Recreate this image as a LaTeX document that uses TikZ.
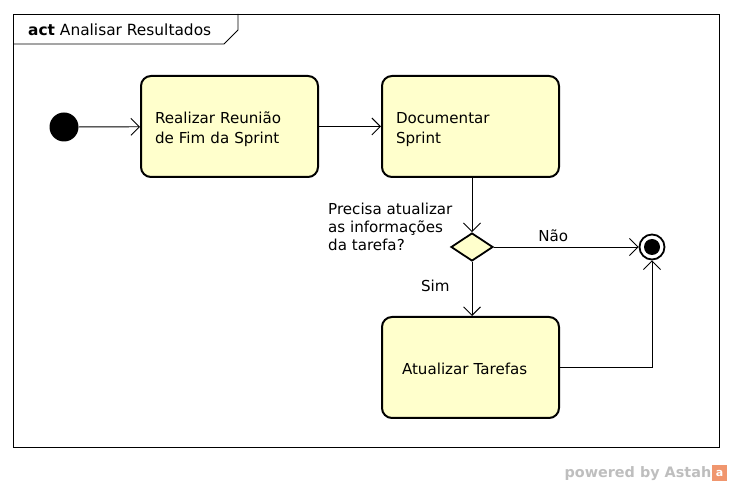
\documentclass[tikz,border=0pt]{standalone}
\usepackage{fontspec}
\setmainfont{DejaVu Sans}
\usetikzlibrary{arrows.meta,shapes.geometric}
\definecolor{actfill}{RGB}{255,255,204}
\definecolor{astahgray}{RGB}{190,190,190}
\definecolor{astahorange}{RGB}{240,150,110}
\newcommand{\boxtext}[1]{\raisebox{0pt}[\dimexpr\height+6pt\relax]{\begin{tabular}{@{}l@{}}#1\end{tabular}}}
\tikzset{
  every node/.style={font=\fontsize{15.1}{19.8}\selectfont},
  action/.style={draw, line width=2pt, rounded corners=10pt, fill=actfill,
    minimum width=177pt, minimum height=101pt, align=left, inner ysep=0pt},
  flow/.style={draw, line width=0.9pt, -{Straight Barb[length=8.5pt,width=17pt,line width=0.9pt]}},
  decision/.style={draw, line width=1.8pt, diamond, fill=actfill, inner sep=0pt,
    minimum width=42pt, minimum height=28pt, aspect=1.5},
  lbl/.style={inner sep=0pt, align=left},
}
\begin{document}
\begin{tikzpicture}[x=1pt,y=-1pt]
\useasboundingbox (0,0) rectangle (732,486);
% frame
\draw[line width=0.9pt] (13,14) rectangle (719,447);
\draw[line width=0.9pt] (13,44) -- (224,44) -- (238,30) -- (238,14);
\node[lbl, anchor=base west, font=\fontsize{15.4}{19}\selectfont] (title) at (28,36) {\textbf{act} Analisar Resultados};
% nodes
\node[circle, fill=black, minimum size=29pt, inner sep=0pt] (init) at (64,127) {};
\node[action, text width=149pt, inner xsep=14pt] (b1) at (229.5,126.5) {\boxtext{Realizar Reunião\\de Fim da Sprint}};
\node[action, text width=149pt, inner xsep=14pt] (b2) at (470.5,126.5) {\boxtext{Documentar\\Sprint}};
\node[decision] (dec) at (472,247) {};
\node[action, text width=137pt, inner xsep=20pt] (b3) at (470.5,367.5) {\boxtext{Atualizar Tarefas}};
\node[circle, draw, line width=1.8pt, minimum size=25pt, inner sep=0pt] (final) at (652,247) {};
\node[circle, fill=black, minimum size=16pt, inner sep=0pt] at (final) {};
\coordinate (corner) at (652,367);
% connectors
\draw[flow] (init) -- (b1);
\draw[flow] (b1) -- (b2);
\draw[flow] (b2.south -| dec.north) -- (dec.north);
\draw[flow] (dec.east) -- node[lbl, pos=0.41, above=5pt] (nao) {Não} (final.west);
\draw[flow] (dec.south) -- node[lbl, pos=0.45, left=22pt] (sim) {Sim} (b3.north -| dec.south);
\draw[flow] (b3.east |- corner) -- (corner) -- (final.south);
% guard
\node[lbl, anchor=base west, font=\fontsize{15.1}{18.2}\selectfont] (guard) at (328,251) {Precisa atualizar\\as informações\\da tarefa?};
% watermark
\node[lbl, anchor=base east, text=astahgray, font=\bfseries\fontsize{14.4}{16}\selectfont] (pw) at (711.5,478) {powered by Astah};
\node[fill=astahorange, minimum width=15pt, minimum height=16pt, inner sep=0pt, anchor=west] (logo) at (712,473) {};
\node[text=white, inner sep=0pt, font=\bfseries\fontsize{11}{12}\selectfont] at (logo) {a};
\end{tikzpicture}
\end{document}
